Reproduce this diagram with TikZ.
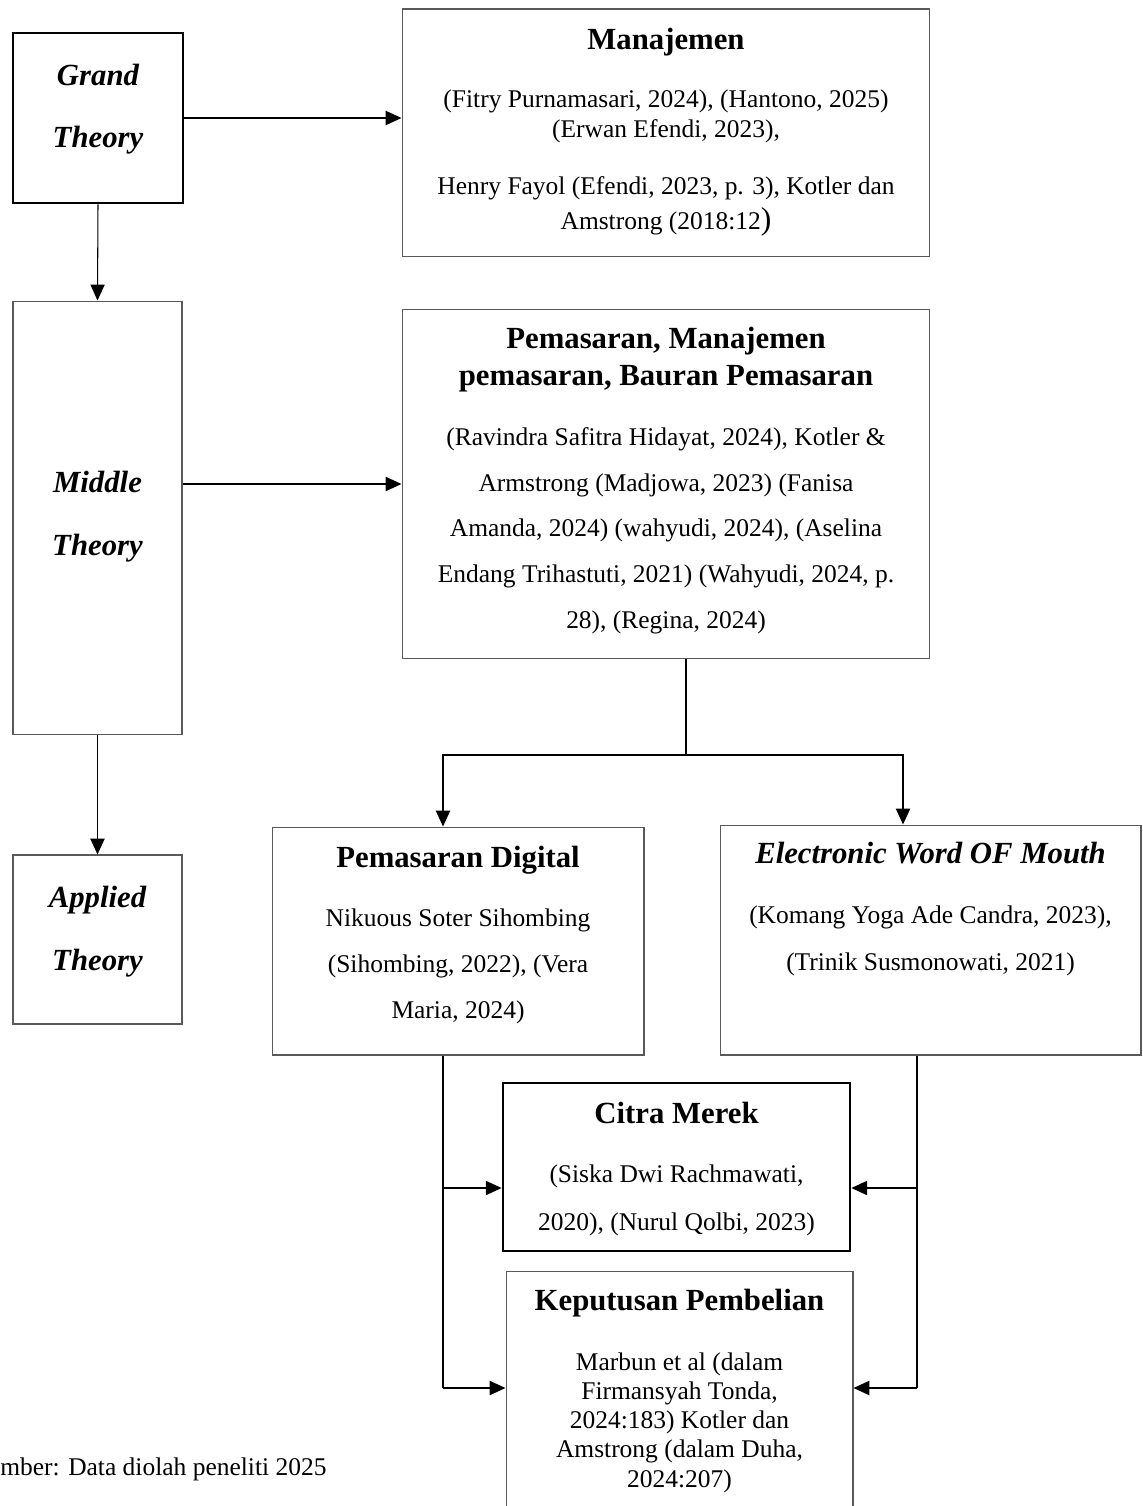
\documentclass[tikz,border=0pt]{standalone}
\usepackage{fontspec}
\setmainfont{Liberation Serif}
\usetikzlibrary{arrows.meta}

\newcommand\ttl{\fontsize{17.5}{21}\selectfont\bfseries}
\newcommand\bdy[1]{\fontsize{14.5}{#1}\selectfont}

\tikzset{
    box/.style={draw=black!65, line width=0.6pt, inner sep=0pt},
    boldbox/.style={draw=black, line width=1.6pt, inner sep=0pt},
    txt/.style={anchor=base, align=center, inner sep=0pt},
    level/.style={txt, font=\ttl\itshape},
    head/.style={txt, font=\ttl},
    link/.style={line width=1.1pt, -{Triangle[length=9pt,width=8pt]}},
    thinlink/.style={line width=0.6pt, -{Triangle[length=9pt,width=8pt]}},
    wire/.style={line width=1.1pt}
}

\begin{document}
\begin{tikzpicture}[x=0.02cm, y=-0.02cm]
    \useasboundingbox (0,0) rectangle (1142,1506);
    \clip (0,0) rectangle (1142,1506);

    % kolom kiri: tingkat teori (base = baris terakhir)
    \node[boldbox, minimum width=3.4cm, minimum height=3.4cm] (grand) at (98,118) {};
    \node[box, minimum width=3.38cm, minimum height=8.68cm] (middle) at (97.5,518) {};
    \node[box, minimum width=3.38cm, minimum height=3.38cm] (applied) at (97.5,939.5) {};
    \node[level] (grand-t) at (98,148) {Grand\\[14.7pt]Theory};
    \node[level] (middle-t) at (97.5,555) {Middle\\[14.7pt]Theory};
    \node[level] (applied-t) at (97.5,970) {Applied\\[14.7pt]Theory};

    % kotak kanan atas
    \node[box, minimum width=10.56cm, minimum height=4.96cm] (mgmt) at (666,133) {};
    \node[head] (mgmt-t) at (666,50) {Manajemen};
    \node[txt, font=\bdy{17pt}] (mgmt-r) at (666,230) {(Fitry Purnamasari, 2024), (Hantono, 2025)\\
        (Erwan Efendi, 2023),\\[15.3pt]
        Henry Fayol (Efendi, 2023, p. 3), Kotler dan\\[3.4pt]
        Amstrong (2018:12{\fontsize{18}{20}\selectfont)}};

    \node[box, minimum width=10.56cm, minimum height=7cm] (mkt) at (666,484) {};
    \node[head] (mkt-t) at (666,386) {Pemasaran, Manajemen\\[0.5pt]pemasaran, Bauran Pemasaran};
    \node[txt, font=\bdy{25.9pt}] (mkt-r) at (666,628) {(Ravindra Safitra Hidayat, 2024), Kotler \&\\
        Armstrong (Madjowa, 2023) (Fanisa\\
        Amanda, 2024) (wahyudi, 2024), (Aselina\\
        Endang Trihastuti, 2021) (Wahyudi, 2024, p.\\
        28), (Regina, 2024)};

    % cabang tengah
    \node[box, minimum width=7.44cm, minimum height=4.56cm] (digital) at (458,941) {};
    \node[head] (digital-t) at (458,867) {Pemasaran Digital};
    \node[txt, font=\bdy{26pt}] (digital-r) at (458,1018) {Nikuous Soter Sihombing\\
        (Sihombing, 2022), (Vera\\
        Maria, 2024)};

    \node[box, minimum width=8.42cm, minimum height=4.6cm] (ewom) at (930.5,940) {};
    \node[head, font=\ttl\itshape] (ewom-t) at (930.5,863) {Electronic Word OF Mouth};
    \node[txt, font=\bdy{26.6pt}] (ewom-r) at (930.5,970) {(Komang Yoga Ade Candra, 2023),\\
        (Trinik Susmonowati, 2021)};

    % variabel bawah
    \node[boldbox, minimum width=6.94cm, minimum height=3.36cm] (citra) at (676.5,1167) {};
    \node[head] (citra-t) at (676.5,1123) {Citra Merek};
    \node[txt, font=\bdy{27pt}] (citra-r) at (676.5,1230) {(Siska Dwi Rachmawati,\\
        2020), (Nurul Qolbi, 2023)};

    \node[box, minimum width=6.94cm, minimum height=5.18cm] (buy) at (679.5,1400.5) {};
    \node[head] (buy-t) at (679.5,1310) {Keputusan Pembelian};
    \node[txt, font=\bdy{16.6pt}] (buy-r) at (679.5,1487) {Marbun et al (dalam\\
        Firmansyah Tonda,\\
        2024:183) Kotler dan\\
        Amstrong (dalam Duha,\\
        2024:207)};

    \node[anchor=base west, inner sep=0pt, font=\bdy{17pt}] (src) at (0,1475) {mber: Data diolah peneliti 2025};

    % titik belok
    \coordinate (split) at (686,755);
    \coordinate (jl) at (443,755);
    \coordinate (jr) at (903,755);
    \coordinate (dl) at (443,1388);
    \coordinate (dr) at (917,1388);
    \coordinate (cy) at (0,1188);

    % panah
    \draw[link] (grand.east) -- (grand.east -| mgmt.west);
    \draw[thinlink] (grand.south) -- (middle.north);
    \draw[link] (mkt.west -| middle.east) -- (mkt.west);
    \draw[link] (middle.south) -- (applied.north);

    \draw[wire, line width=0.9pt] (split |- mkt.south) -- (split);
    \draw[link] (split) -- (jl) -- (jl |- digital.north);
    \draw[link] (split) -- (jr) -- (jr |- ewom.north);

    \draw[wire] (dl |- digital.south) -- (dl);
    \draw[link] (dl |- cy) -- (citra.west |- cy);
    \draw[link] (dl) -- (dl -| buy.west);
    \draw[wire] (dr |- ewom.south) -- (dr);
    \draw[link] (dr |- cy) -- (citra.east |- cy);
    \draw[link] (dr) -- (dr -| buy.east);

\end{tikzpicture}
\end{document}
